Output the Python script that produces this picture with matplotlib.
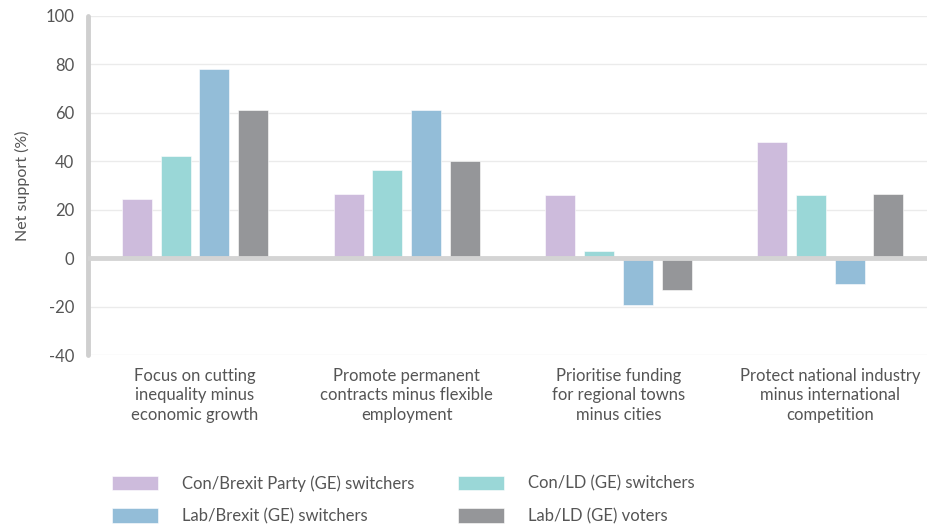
import matplotlib
matplotlib.use("Agg")
import matplotlib.pyplot as plt
import numpy as np

categories = [
    "Focus on cutting\ninequality minus\neconomic growth",
    "Promote permanent\ncontracts minus flexible\nemployment",
    "Prioritise funding\nfor regional towns\nminus cities",
    "Protect national industry\nminus international\ncompetition",
]
series_names = [
    "Con/Brexit Party (GE) switchers",
    "Con/LD (GE) switchers",
    "Lab/Brexit (GE) switchers",
    "Lab/LD (GE) voters",
]
con_brexit = [24.5, 26.5, 26, 48]
con_ld = [42, 36.5, 3, 26]
lab_brexit = [78, 61, -19.5, -10.5]
lab_ld = [61, 40, -13, 26.5]
yticks = [-40, -20, 0, 20, 40, 60, 80, 100]

series = [con_brexit, con_ld, lab_brexit, lab_ld]
colors = ["#cdbbdc", "#9ad7d7", "#93bdd8", "#959699"]

plt.rcParams['font.family'] = ['Lato', 'DejaVu Sans']
FS = 12
W, H = 928, 526
fig = plt.figure(figsize=(W / 100, H / 100), dpi=100)
ax = fig.add_axes([88 / W, (H - 355) / H, 840 / W, (355 - 16) / H])

x = np.arange(len(categories))
pitch = 0.183
width = 0.142
handles = []
for i, (vals, c, name) in enumerate(zip(series, colors, series_names)):
    b = ax.bar(x + (i - 1.5) * pitch, vals, width, color=c, label=name,
               edgecolor='white', linewidth=0.4, zorder=2)
    handles.append(b)

ax.set_ylim(-40, 100)
ax.set_xlim(-0.505, 3.462)
ax.set_yticks(yticks)
ax.set_yticklabels([str(t) for t in yticks], color='#555555', fontsize=FS)
ax.set_xticks(x)
ax.set_xticklabels(categories, color='#555555', fontsize=FS, linespacing=1.3)
ax.tick_params(axis='both', length=0)
ax.tick_params(axis='x', pad=9)
ax.tick_params(axis='y', pad=10)
ax.grid(axis='y', color='#ebebeb', linewidth=1, zorder=0)
ax.set_axisbelow(True)
for s in ['top', 'right', 'bottom']:
    ax.spines[s].set_visible(False)
ax.spines['left'].set_color('#cfcfcf')
ax.spines['left'].set_linewidth(3.5)
ax.spines['left'].set_capstyle('round')
ax.axhline(0, color='#d4d4d4', linewidth=3.5, zorder=3)
ax.set_ylabel("Net support (%)", color='#555555', fontsize=FS - 0.5, labelpad=11)

order = [0, 2, 1, 3]
leg = fig.legend([handles[i] for i in order], [series_names[i] for i in order],
                 ncol=2, loc='upper left', bbox_to_anchor=(112 / W, 1 - 475 / H),
                 frameon=False, fontsize=FS, handlelength=2.75, handleheight=0.96,
                 handletextpad=1.45, columnspacing=2.6, labelspacing=1.0,
                 borderpad=0, borderaxespad=0)
for t in leg.get_texts():
    t.set_color('#555555')

fig.savefig("out.png", dpi=100, facecolor='white')
